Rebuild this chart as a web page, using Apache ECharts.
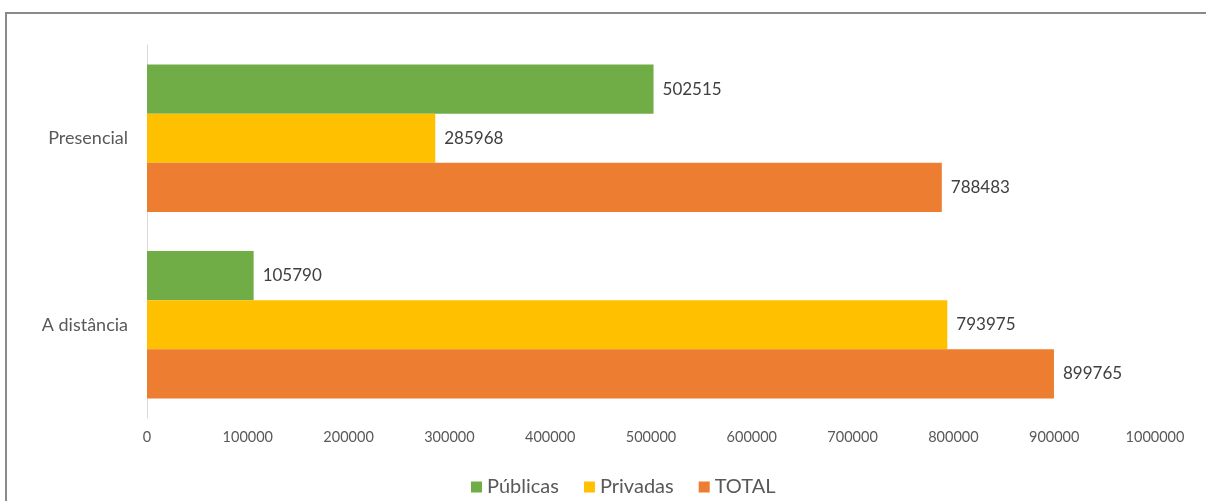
<!DOCTYPE html>
<html>
<head>
<meta charset="utf-8">
<script src="https://cdn.jsdelivr.net/npm/echarts@6/dist/echarts.min.js"></script>
<style>
  html, body { margin: 0; padding: 0; background: #fff; }
  #chart { width: 1206px; height: 501px; }
</style>
</head>
<body>
<div id="chart"></div>
<script>
// Enrolments by modality, split by public / private institutions
const categories = ['Presencial', 'A distância'];
const publicas = [502515, 105790];
const privadas = [285968, 793975];
const total = [788483, 899765];
const seriesNames = ['Públicas', 'Privadas', 'TOTAL'];
const xTicks = [0, 100000, 200000, 300000, 400000, 500000, 600000, 700000, 800000, 900000, 1000000];

const FONT = 'Lato, "Open Sans", sans-serif';
const colors = ['#70AD47', '#FFC000', '#ED7D31'];

const chart = echarts.init(document.getElementById('chart'), null, { renderer: 'canvas' });

const labelStyle = {
  show: true,
  position: 'right',
  distance: 9,
  color: '#404040',
  fontFamily: FONT,
  fontSize: 17
};

function barSeries(name, data, color) {
  return {
    name: name,
    type: 'bar',
    data: data,
    itemStyle: { color: color },
    barGap: '0%',
    barCategoryGap: '21%',
    label: labelStyle
  };
}

chart.setOption({
  animation: false,
  color: colors,
  graphic: [{
    type: 'rect',
    shape: { x: 6, y: 13, width: 1220, height: 520 },
    style: { fill: 'none', stroke: '#8a8a8a', lineWidth: 2 },
    silent: true
  }],
  grid: { left: 147, right: 51, top: 45, bottom: 83, containLabel: false },
  legend: {
    data: seriesNames,
    left: 466,
    top: 472,
    itemWidth: 11,
    itemHeight: 11,
    itemGap: 25,
    icon: 'rect',
    textStyle: { color: '#595959', fontFamily: FONT, fontSize: 20 }
  },
  xAxis: {
    type: 'value',
    min: xTicks[0],
    max: xTicks[xTicks.length - 1],
    interval: xTicks[1] - xTicks[0],
    axisLine: { show: false },
    axisTick: { show: false },
    splitLine: { show: false },
    axisLabel: {
      color: '#595959', fontFamily: FONT, fontSize: 14.5, margin: 12,
      formatter: function (v) { return String(v); }
    }
  },
  yAxis: {
    type: 'category',
    data: categories,
    inverse: true,
    axisLine: { show: true, lineStyle: { color: '#d9d9d9', width: 1 } },
    axisTick: { show: false },
    axisLabel: { color: '#595959', fontFamily: FONT, fontSize: 18, margin: 19 }
  },
  series: [
    barSeries(seriesNames[0], publicas, colors[0]),
    barSeries(seriesNames[1], privadas, colors[1]),
    barSeries(seriesNames[2], total, colors[2])
  ]
});
</script>
</body>
</html>
